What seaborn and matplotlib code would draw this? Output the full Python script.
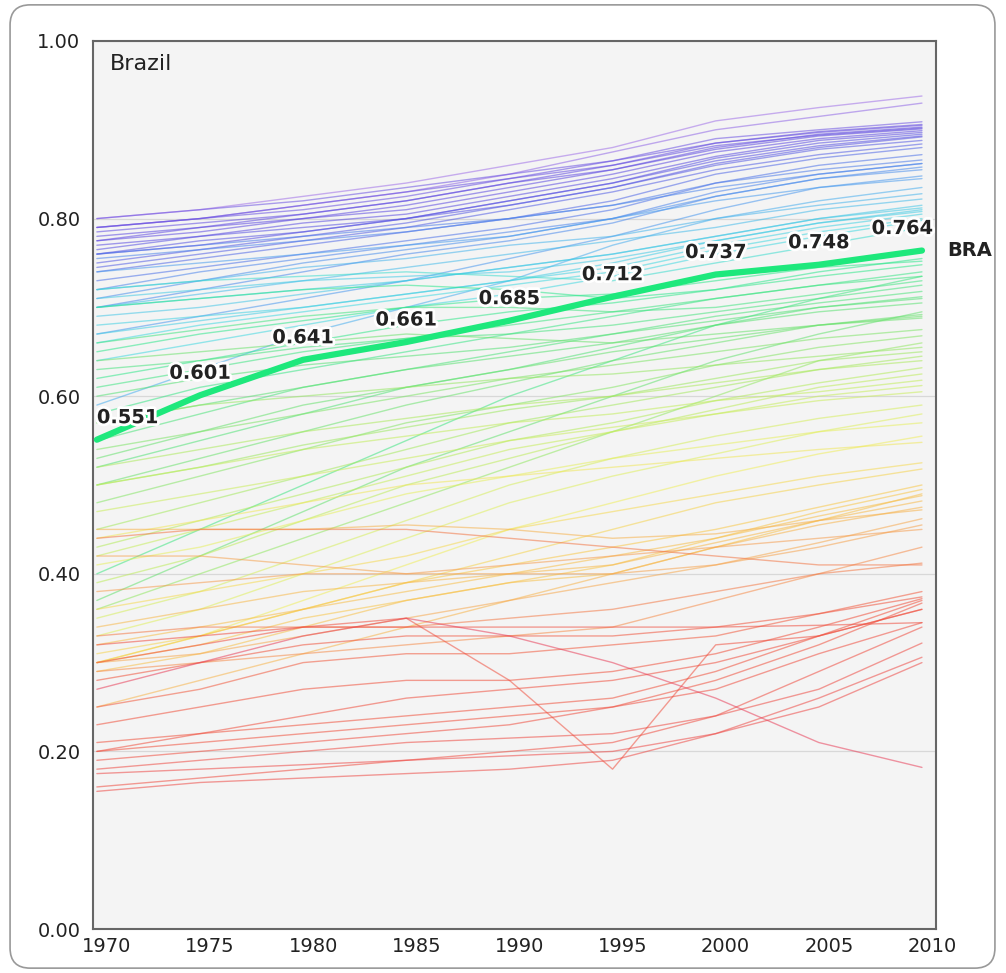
"""
Human development index, 1970-2010, all countries with Brazil highlighted.
"""
import pandas as pd
import matplotlib.pyplot as plt
import matplotlib.patheffects as pe
import matplotlib.transforms as mtransforms
from matplotlib.colors import LinearSegmentedColormap, Normalize
from matplotlib.patches import FancyBboxPatch
import seaborn as sns

YEARS = [1970, 1975, 1980, 1985, 1990, 1995, 2000, 2005, 2010]
BRAZIL = [0.551, 0.601, 0.641, 0.661, 0.685, 0.712, 0.737, 0.748, 0.764]

# other countries, every 5 years (grouped by 2010 colour band)
PURPLE_LINES = [
    [0.800, 0.810, 0.825, 0.840, 0.860, 0.880, 0.910, 0.925, 0.938],
    [0.790, 0.800, 0.815, 0.830, 0.850, 0.875, 0.900, 0.915, 0.930],
    [0.800, 0.810, 0.820, 0.835, 0.850, 0.865, 0.890, 0.900, 0.909],
    [0.790, 0.800, 0.810, 0.825, 0.845, 0.860, 0.885, 0.898, 0.906],
    [0.790, 0.800, 0.815, 0.830, 0.845, 0.865, 0.885, 0.897, 0.905],
    [0.785, 0.795, 0.805, 0.820, 0.840, 0.855, 0.880, 0.895, 0.903],
    [0.775, 0.790, 0.805, 0.820, 0.840, 0.860, 0.882, 0.894, 0.902],
    [0.780, 0.790, 0.800, 0.815, 0.835, 0.855, 0.878, 0.893, 0.901],
    [0.775, 0.785, 0.800, 0.810, 0.830, 0.850, 0.875, 0.890, 0.899],
    [0.770, 0.780, 0.795, 0.805, 0.825, 0.845, 0.870, 0.888, 0.897],
    [0.765, 0.780, 0.790, 0.800, 0.820, 0.840, 0.868, 0.885, 0.895],
    [0.760, 0.770, 0.785, 0.800, 0.820, 0.840, 0.865, 0.882, 0.893],
    [0.760, 0.775, 0.785, 0.800, 0.815, 0.835, 0.862, 0.880, 0.892],
    [0.750, 0.765, 0.780, 0.795, 0.815, 0.835, 0.860, 0.878, 0.888],
    [0.745, 0.760, 0.775, 0.790, 0.810, 0.830, 0.855, 0.872, 0.884],
    [0.740, 0.755, 0.770, 0.785, 0.800, 0.820, 0.850, 0.868, 0.880],
    [0.730, 0.745, 0.760, 0.775, 0.790, 0.810, 0.840, 0.860, 0.872],
]
BLUE_LINES = [
    [0.760, 0.770, 0.780, 0.790, 0.800, 0.815, 0.840, 0.855, 0.866],
    [0.755, 0.765, 0.775, 0.785, 0.800, 0.815, 0.835, 0.850, 0.862],
    [0.720, 0.740, 0.755, 0.770, 0.785, 0.800, 0.830, 0.850, 0.862],
    [0.700, 0.720, 0.740, 0.760, 0.775, 0.795, 0.825, 0.845, 0.858],
    [0.710, 0.730, 0.750, 0.765, 0.780, 0.800, 0.825, 0.845, 0.855],
    [0.670, 0.690, 0.710, 0.730, 0.755, 0.780, 0.810, 0.835, 0.848],
    [0.740, 0.750, 0.760, 0.770, 0.780, 0.800, 0.820, 0.835, 0.845],
    [0.590, 0.630, 0.670, 0.700, 0.730, 0.770, 0.800, 0.820, 0.835],
]
CYAN_LINES = [
    [0.720, 0.730, 0.745, 0.755, 0.770, 0.780, 0.800, 0.815, 0.828],
    [0.700, 0.715, 0.730, 0.745, 0.760, 0.775, 0.790, 0.810, 0.822],
    [0.690, 0.700, 0.715, 0.730, 0.745, 0.760, 0.780, 0.800, 0.815],
    [0.700, 0.710, 0.720, 0.730, 0.745, 0.760, 0.780, 0.800, 0.812],
    [0.710, 0.720, 0.730, 0.735, 0.740, 0.755, 0.775, 0.795, 0.810],
    [0.670, 0.685, 0.700, 0.715, 0.730, 0.750, 0.775, 0.795, 0.808],
    [0.680, 0.690, 0.700, 0.715, 0.730, 0.745, 0.770, 0.790, 0.805],
    [0.660, 0.680, 0.695, 0.710, 0.725, 0.740, 0.765, 0.785, 0.800],
    [0.640, 0.660, 0.680, 0.700, 0.715, 0.735, 0.760, 0.780, 0.798],
    [0.720, 0.730, 0.735, 0.740, 0.735, 0.730, 0.750, 0.770, 0.790],
]
GREEN_LINES = [
    [0.700, 0.710, 0.720, 0.725, 0.720, 0.710, 0.720, 0.740, 0.755],
    [0.650, 0.670, 0.685, 0.700, 0.710, 0.715, 0.730, 0.745, 0.752],
    [0.620, 0.640, 0.660, 0.680, 0.695, 0.705, 0.720, 0.735, 0.748],
    [0.580, 0.610, 0.630, 0.650, 0.670, 0.690, 0.710, 0.725, 0.740],
    [0.400, 0.450, 0.500, 0.550, 0.600, 0.640, 0.680, 0.710, 0.735],
    [0.610, 0.630, 0.650, 0.665, 0.680, 0.695, 0.710, 0.725, 0.735],
    [0.660, 0.675, 0.690, 0.700, 0.700, 0.695, 0.700, 0.715, 0.730],
    [0.630, 0.640, 0.655, 0.665, 0.670, 0.680, 0.695, 0.710, 0.725],
    [0.550, 0.580, 0.610, 0.630, 0.650, 0.670, 0.690, 0.705, 0.718],
    [0.520, 0.550, 0.580, 0.610, 0.630, 0.655, 0.680, 0.700, 0.712],
    [0.600, 0.620, 0.635, 0.645, 0.655, 0.670, 0.685, 0.700, 0.710],
    [0.570, 0.590, 0.610, 0.630, 0.645, 0.660, 0.680, 0.695, 0.705],
    [0.370, 0.420, 0.470, 0.520, 0.560, 0.600, 0.640, 0.670, 0.695],
    [0.530, 0.560, 0.590, 0.610, 0.630, 0.650, 0.665, 0.680, 0.692],
    [0.500, 0.530, 0.560, 0.590, 0.615, 0.640, 0.660, 0.680, 0.690],
    [0.640, 0.650, 0.660, 0.670, 0.665, 0.660, 0.670, 0.680, 0.688],
]
YELLOW_LINES = [
    [0.540, 0.560, 0.580, 0.600, 0.620, 0.635, 0.650, 0.665, 0.675],
    [0.480, 0.510, 0.540, 0.570, 0.590, 0.610, 0.635, 0.655, 0.668],
    [0.360, 0.400, 0.440, 0.480, 0.520, 0.560, 0.600, 0.640, 0.660],
    [0.570, 0.590, 0.600, 0.610, 0.620, 0.625, 0.635, 0.645, 0.655],
    [0.500, 0.520, 0.545, 0.565, 0.585, 0.600, 0.620, 0.640, 0.650],
    [0.450, 0.480, 0.510, 0.540, 0.570, 0.590, 0.610, 0.630, 0.645],
    [0.520, 0.540, 0.560, 0.575, 0.590, 0.600, 0.615, 0.630, 0.640],
    [0.430, 0.460, 0.490, 0.520, 0.550, 0.570, 0.595, 0.615, 0.632],
    [0.390, 0.420, 0.460, 0.500, 0.530, 0.560, 0.585, 0.610, 0.625],
    [0.500, 0.520, 0.540, 0.555, 0.570, 0.580, 0.595, 0.605, 0.618],
    [0.420, 0.450, 0.480, 0.510, 0.540, 0.560, 0.580, 0.600, 0.612],
    [0.470, 0.490, 0.510, 0.530, 0.550, 0.565, 0.580, 0.595, 0.605],
    [0.350, 0.380, 0.420, 0.460, 0.500, 0.530, 0.555, 0.575, 0.590],
    [0.330, 0.360, 0.400, 0.440, 0.480, 0.510, 0.535, 0.560, 0.580],
    [0.410, 0.430, 0.460, 0.490, 0.510, 0.530, 0.545, 0.560, 0.570],
    [0.300, 0.330, 0.370, 0.410, 0.450, 0.480, 0.510, 0.535, 0.555],
    [0.440, 0.460, 0.480, 0.500, 0.510, 0.520, 0.530, 0.540, 0.548],
    [0.360, 0.380, 0.400, 0.420, 0.450, 0.470, 0.490, 0.510, 0.525],
    [0.310, 0.330, 0.360, 0.390, 0.420, 0.450, 0.480, 0.500, 0.518],
]
ORANGE_LINES = [
    [0.300, 0.330, 0.360, 0.390, 0.410, 0.430, 0.450, 0.475, 0.500],
    [0.300, 0.320, 0.350, 0.370, 0.390, 0.410, 0.440, 0.470, 0.495],
    [0.290, 0.310, 0.340, 0.370, 0.390, 0.400, 0.430, 0.460, 0.490],
    [0.320, 0.340, 0.360, 0.380, 0.400, 0.420, 0.440, 0.465, 0.488],
    [0.340, 0.360, 0.380, 0.390, 0.400, 0.410, 0.435, 0.460, 0.482],
    [0.250, 0.280, 0.310, 0.340, 0.370, 0.400, 0.430, 0.455, 0.475],
    [0.450, 0.450, 0.450, 0.455, 0.450, 0.440, 0.445, 0.460, 0.472],
    [0.300, 0.310, 0.330, 0.350, 0.370, 0.390, 0.410, 0.435, 0.462],
    [0.420, 0.420, 0.410, 0.400, 0.400, 0.400, 0.410, 0.430, 0.455],
    [0.380, 0.390, 0.400, 0.400, 0.410, 0.420, 0.430, 0.440, 0.450],
    [0.290, 0.300, 0.310, 0.320, 0.330, 0.340, 0.370, 0.400, 0.430],
    [0.330, 0.340, 0.340, 0.340, 0.350, 0.360, 0.380, 0.400, 0.412],
    [0.440, 0.450, 0.450, 0.450, 0.440, 0.430, 0.420, 0.410, 0.410],
]
RED_LINES = [
    [0.250, 0.270, 0.300, 0.310, 0.310, 0.320, 0.330, 0.355, 0.380],
    [0.280, 0.300, 0.320, 0.330, 0.330, 0.330, 0.340, 0.355, 0.374],
    [0.230, 0.250, 0.270, 0.280, 0.280, 0.290, 0.310, 0.340, 0.372],
    [0.210, 0.220, 0.230, 0.240, 0.250, 0.260, 0.290, 0.330, 0.370],
    [0.200, 0.210, 0.220, 0.230, 0.240, 0.250, 0.280, 0.320, 0.367],
    [0.200, 0.220, 0.240, 0.260, 0.270, 0.280, 0.300, 0.330, 0.360],
    [0.190, 0.200, 0.210, 0.220, 0.230, 0.250, 0.270, 0.310, 0.345],
    [0.160, 0.170, 0.180, 0.190, 0.200, 0.210, 0.240, 0.290, 0.340],
    [0.180, 0.190, 0.200, 0.210, 0.215, 0.220, 0.240, 0.270, 0.322],
    [0.155, 0.165, 0.170, 0.175, 0.180, 0.190, 0.220, 0.260, 0.306],
    [0.175, 0.180, 0.185, 0.190, 0.195, 0.200, 0.220, 0.250, 0.300],
    [0.320, 0.330, 0.340, 0.340, 0.340, 0.340, 0.340, 0.342, 0.345],
    [0.300, 0.320, 0.340, 0.350, 0.280, 0.180, 0.320, 0.330, 0.360],
    [0.270, 0.300, 0.330, 0.350, 0.330, 0.300, 0.260, 0.210, 0.182],
]

# colour stops keyed on the 2010 value
CMAP_VALUES = [0.18, 0.37, 0.45, 0.50, 0.56, 0.63, 0.70, 0.76, 0.80, 0.84, 0.875, 0.90, 0.94]
CMAP_COLORS = ['#e8405a', '#f0503c', '#f5a050', '#f8c848', '#eef060', '#b8ec5a',
               '#5ee070', '#28e890', '#40d8e0', '#48a8f0', '#4c70e8', '#5a48e0', '#a070e8']

sns.set_theme(style='white')
plt.rcParams['font.family'] = ['DejaVu Sans']

lo, hi = CMAP_VALUES[0], CMAP_VALUES[-1]
cmap = LinearSegmentedColormap.from_list(
    'hdi', [((v - lo) / (hi - lo), c) for v, c in zip(CMAP_VALUES, CMAP_COLORS)])
norm = Normalize(lo, hi)

all_lines = PURPLE_LINES + BLUE_LINES + CYAN_LINES + GREEN_LINES + YELLOW_LINES + ORANGE_LINES + RED_LINES
rows = []
palette = {}
for i, vals in enumerate(all_lines):
    name = f'c{i}'
    palette[name] = cmap(norm(vals[-1]))
    for yr, v in zip(YEARS, vals):
        rows.append({'country': name, 'year': yr, 'hdi': v})
df = pd.DataFrame(rows)

fig = plt.figure(figsize=(10.06, 9.73), dpi=100)
ax = fig.add_axes([0.0924, 0.0452, 0.838, 0.9127])
ax.set_facecolor('#f4f4f4')

sns.lineplot(data=df, x='year', y='hdi', hue='country', palette=palette, legend=False,
             estimator=None, linewidth=1.0, alpha=0.55, ax=ax)
sns.lineplot(x=YEARS, y=BRAZIL, color='#1ee87c', linewidth=4.5, ax=ax, zorder=5)

halo = [pe.withStroke(linewidth=4, foreground='white')]
for i, (yr, v) in enumerate(zip(YEARS, BRAZIL)):
    ha, dx = 'center', 0
    if i == 0:
        ha = 'left'
    elif i == len(YEARS) - 1:
        ha, dx = 'right', 8
    ax.annotate(f'{v:.3f}', (yr, v), xytext=(dx, 9), textcoords='offset points',
                ha=ha, va='bottom', fontsize=14, fontweight='bold', color='#222222',
                path_effects=halo, zorder=6)

ax.annotate('BRA', xy=(1, BRAZIL[-1]), xycoords=('axes fraction', 'data'),
            xytext=(8, 0), textcoords='offset points', ha='left', va='center',
            fontsize=14, fontweight='bold', color='#222222', annotation_clip=False)
ax.text(0.02, 0.985, 'Brazil', transform=ax.transAxes, ha='left', va='top',
        fontsize=16, color='#222222')

ax.set_xlim(1969.81, 2010.68)
ax.set_ylim(0, 1)
ax.set_xticks(YEARS)
ax.set_xticklabels([str(y) for y in YEARS])
yt = [0.0, 0.2, 0.4, 0.6, 0.8, 1.0]
ax.set_yticks(yt)
ax.set_yticklabels([f'{t:.2f}' for t in yt])
ax.tick_params(axis='both', length=0, labelsize=14, colors='#222222')
ax.tick_params(axis='y', pad=9)
ax.tick_params(axis='x', pad=6)
ax.set_xlabel('')
ax.set_ylabel('')
ax.grid(axis='y', color='#d8d8d8', linewidth=0.9)
ax.set_axisbelow(True)
for s in ax.spines.values():
    s.set_color('#666666')
    s.set_linewidth(1.5)

# year labels sit a little right of their data position in the original
shift = mtransforms.ScaledTranslation(0.1, 0, fig.dpi_scale_trans)
for lbl in ax.get_xticklabels():
    lbl.set_transform(lbl.get_transform() + shift)

fig.patches.append(FancyBboxPatch((0.01, 0.005), 0.979, 0.99,
                                  boxstyle='round,pad=0,rounding_size=0.02',
                                  mutation_aspect=1006 / 973,
                                  transform=fig.transFigure, fc='none',
                                  ec='#999999', lw=1.2))

fig.savefig('out.png', dpi=100)
plt.close(fig)
